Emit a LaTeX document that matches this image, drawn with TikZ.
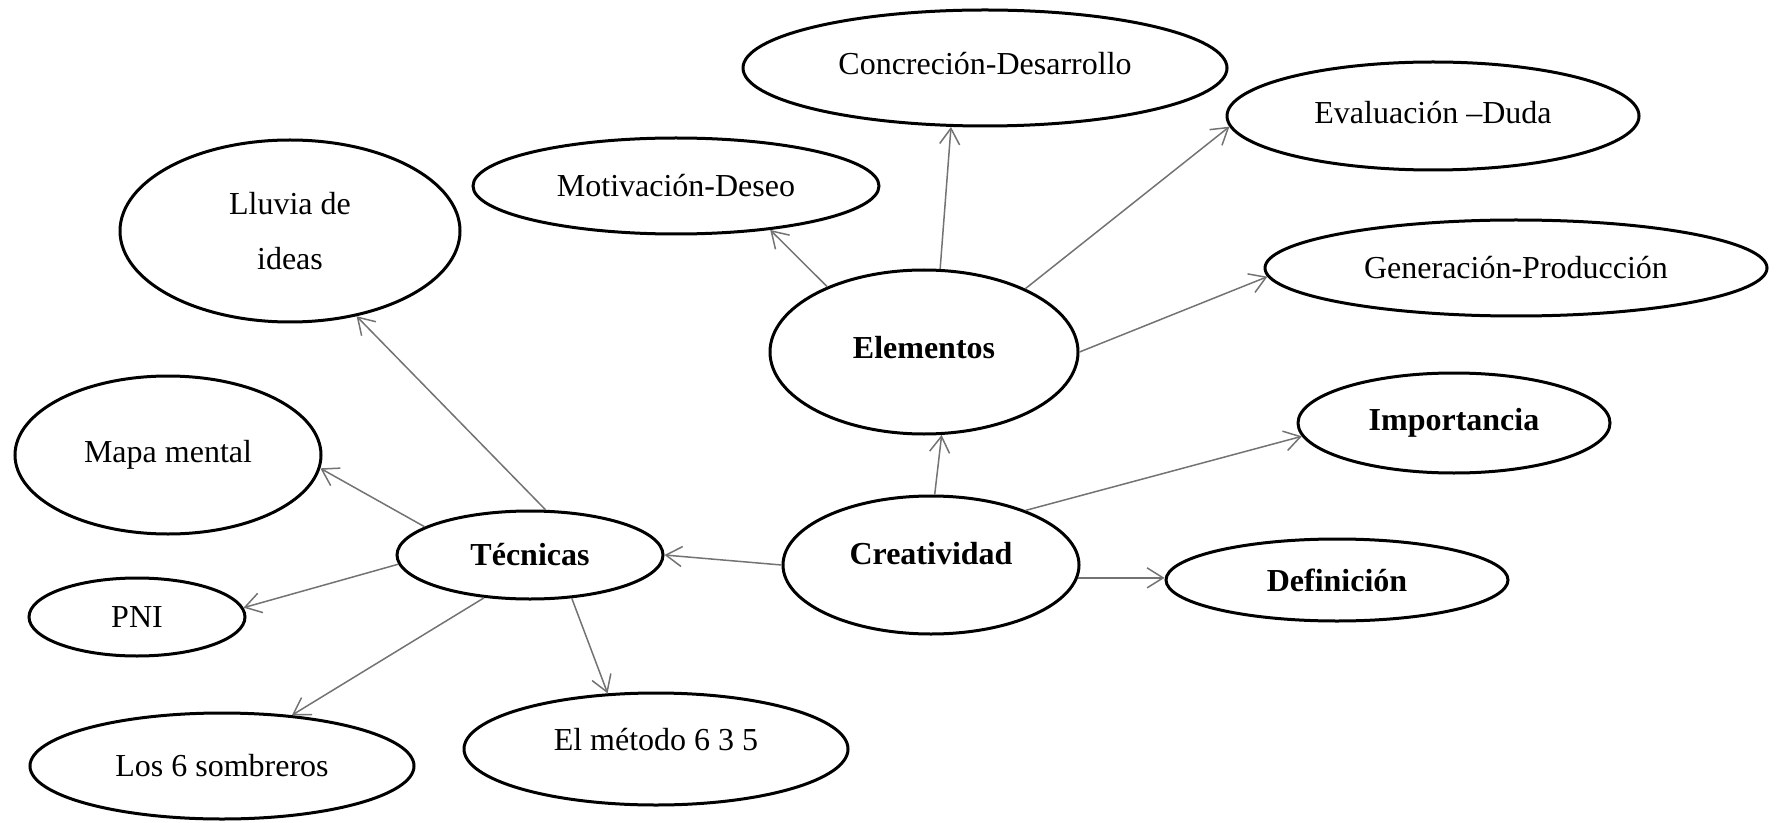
\documentclass[tikz,border=0pt]{standalone}
\usepackage{fontspec}
\setmainfont{Liberation Serif}
\usetikzlibrary{shapes.geometric,arrows.meta}

\tikzset{every picture/.style={line width=0.75pt}}
\tikzset{
  idea/.style={draw, ellipse, line width=1.5pt, inner sep=0pt, align=center,
    font=\fontsize{16}{27.5}\selectfont},
  keyidea/.style={idea, font=\fontsize{16}{27.5}\selectfont\bfseries},
  link/.style={draw=black!55, line width=0.75pt, -{Straight Barb[length=8pt,width=10pt]}}
}

\begin{document}
\begin{tikzpicture}[x=0.5pt,y=0.5pt,yscale=-1,xscale=1]
\useasboundingbox (0,0) rectangle (1780,823);

% Text Node
\node (crea) [keyidea, minimum width=148pt, minimum height=69pt, text depth=12pt] at (931,565) {Creatividad};
% Text Node
\node (elem) [keyidea, minimum width=154pt, minimum height=82pt, text depth=5pt] at (924,352) {Elementos};
% Text Node
\node (tec) [keyidea, minimum width=133pt, minimum height=44pt] at (530,555) {Técnicas};
% Text Node
\node (conc) [idea, minimum width=242pt, minimum height=58pt, text depth=5pt] at (985,68) {Concreción-Desarrollo};
% Text Node
\node (eval) [idea, minimum width=206pt, minimum height=54pt, text depth=4pt] at (1433,116) {Evaluación –Duda};
% Text Node
\node (moti) [idea, minimum width=203pt, minimum height=48pt] at (676,186) {Motivación-Deseo};
% Text Node
\node (gene) [idea, minimum width=251pt, minimum height=48pt] at (1516,268) {Generación-Producción};
% Text Node
\node (impo) [keyidea, minimum width=156pt, minimum height=50pt] at (1454,423) {Importancia};
% Text Node
\node (defi) [keyidea, minimum width=171pt, minimum height=41pt] at (1337,580) {Definición};
% Text Node
\node (lluv) [idea, minimum width=170pt, minimum height=91pt] at (290,231) {Lluvia de\\ideas};
% Text Node
\node (mapa) [idea, minimum width=153pt, minimum height=79pt] at (168,455) {Mapa mental};
% Text Node
\node (pni) [idea, minimum width=108pt, minimum height=39pt] at (137,617) {PNI};
% Text Node
\node (somb) [idea, minimum width=192pt, minimum height=53pt] at (222,766) {Los 6 sombreros};
% Text Node
\node (meto) [idea, minimum width=192pt, minimum height=56pt, text depth=10pt] at (656,749) {El método 6 3 5};

% Connection
\draw [link] (crea.west) -- (tec.east);
% Connection
\draw [link] (crea.87) -- (elem.282);
% Connection
\draw [link] (crea.30) -- (impo.185);
% Connection
\draw [link] (crea.355) -- (crea.355 -| defi.west);
% Connection
\draw [link] (elem.146) -- (moti.-25);
% Connection
\draw [link] (elem.79) -- (conc.240);
% Connection
\draw [link] (elem.32) -- (eval.183);
% Connection
\draw [link] (elem.east) -- (gene.182);
% Connection
\draw [link] (tec.71) -- (lluv.308);
% Connection
\draw [link] (tec.165) -- (mapa.-5);
% Connection
\draw [link] (tec.184) -- (pni.5);
% Connection
\draw [link] (tec.223) -- (somb.36);
% Connection
\draw [link] (tec.-46) -- (meto.131);

\end{tikzpicture}
\end{document}
